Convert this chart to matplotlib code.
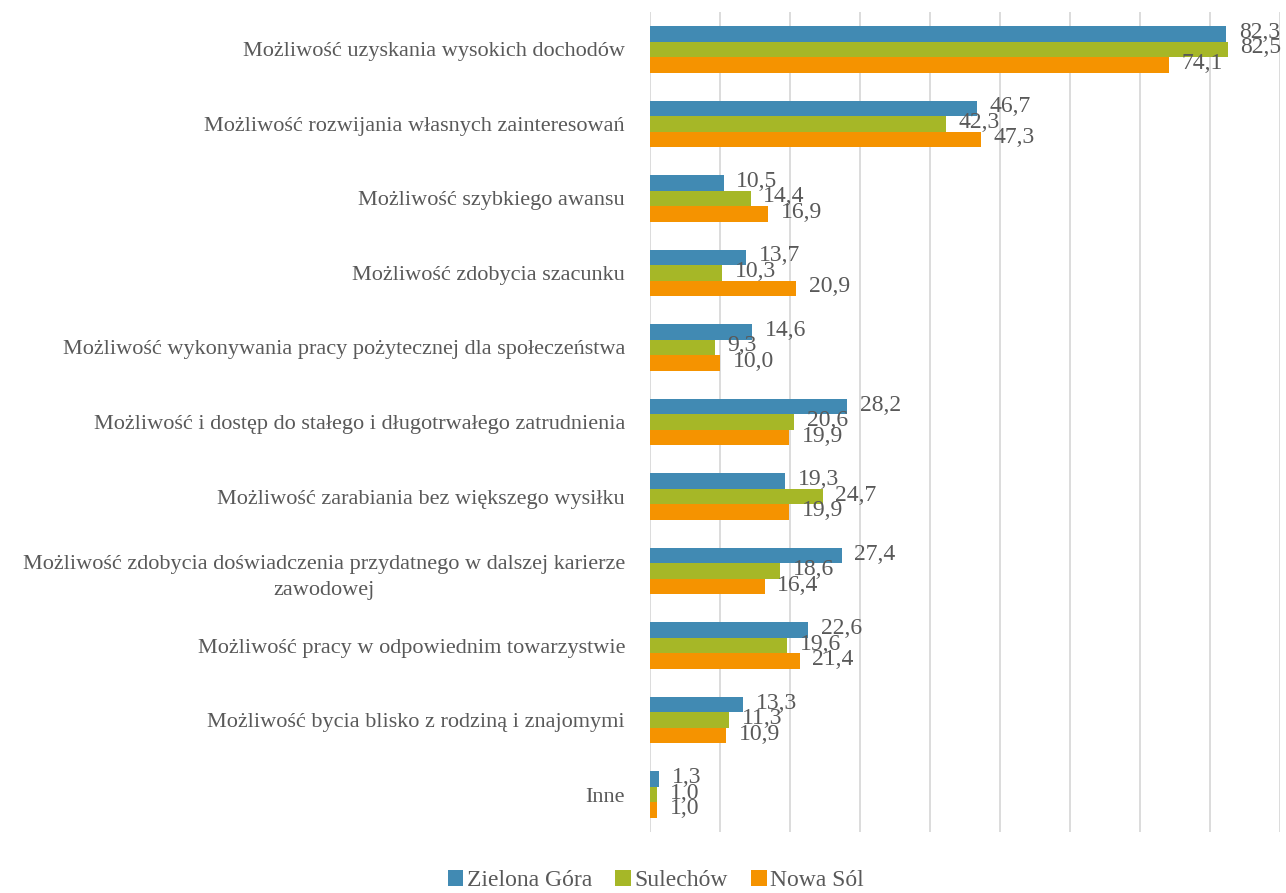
import matplotlib
matplotlib.use("Agg")
import matplotlib.pyplot as plt
import numpy as np

categories = [
    "Możliwość uzyskania wysokich dochodów",
    "Możliwość rozwijania własnych zainteresowań",
    "Możliwość szybkiego awansu",
    "Możliwość zdobycia szacunku",
    "Możliwość wykonywania pracy pożytecznej dla społeczeństwa",
    "Możliwość i dostęp do stałego i długotrwałego zatrudnienia",
    "Możliwość zarabiania bez większego wysiłku",
    "Możliwość zdobycia doświadczenia przydatnego w dalszej karierze\nzawodowej",
    "Możliwość pracy w odpowiednim towarzystwie",
    "Możliwość bycia blisko z rodziną i znajomymi",
    "Inne",
]
zielona_gora = [82.3, 46.7, 10.5, 13.7, 14.6, 28.2, 19.3, 27.4, 22.6, 13.3, 1.3]
sulechow = [82.5, 42.3, 14.4, 10.3, 9.3, 20.6, 24.7, 18.6, 19.6, 11.3, 1.0]
nowa_sol = [74.1, 47.3, 16.9, 20.9, 10.0, 19.9, 19.9, 16.4, 21.4, 10.9, 1.0]
series_names = ["Zielona Góra", "Sulechów", "Nowa Sól"]
colors = ["#418AB3", "#A6B727", "#F59300"]

plt.rcParams['font.family'] = ['Liberation Serif', 'DejaVu Serif']
text_color = "#595959"

fig = plt.figure(figsize=(12.86, 8.93), dpi=100)
ax = fig.add_axes([650/1286, 1-832/893, 630/1286, 820/893])

y = np.arange(len(categories))
h = 0.208
for i, (vals, name, c) in enumerate(zip([zielona_gora, sulechow, nowa_sol], series_names, colors)):
    off = (i - 1) * h
    bars = ax.barh(y + off, vals, height=h, color=c, label=name, zorder=3)
    for b, v in zip(bars, vals):
        ax.text(v + 1.8, b.get_y() + b.get_height()/2 - 0.02, f"{v:.1f}".replace(".", ","),
                va="center", ha="left", fontsize=17, color=text_color, zorder=4)

ax.set_xlim(0, 90)
ax.set_ylim(len(categories) - 0.5, -0.5)
ax.set_xticks(np.arange(0, 91, 10))
ax.xaxis.grid(True, color="#D9D9D9", linewidth=1.3, zorder=0)
ax.tick_params(axis='x', length=0, labelbottom=False)
ax.tick_params(axis='y', length=0, pad=18)
ax.set_yticks(y)
ax.set_yticklabels(categories, fontsize=16, color=text_color)
for lab in ax.get_yticklabels():
    lab.set_multialignment("center")
    lab.set_linespacing(1.5)
for s in ax.spines.values():
    s.set_visible(False)

fig.legend(loc="lower center", bbox_to_anchor=(0.51, -0.022), ncol=3, frameon=False,
           fontsize=17, labelcolor=text_color, handlelength=0.65, handleheight=0.65,
           handletextpad=0.15, columnspacing=1.0)

fig.savefig("out.png", dpi=100)
